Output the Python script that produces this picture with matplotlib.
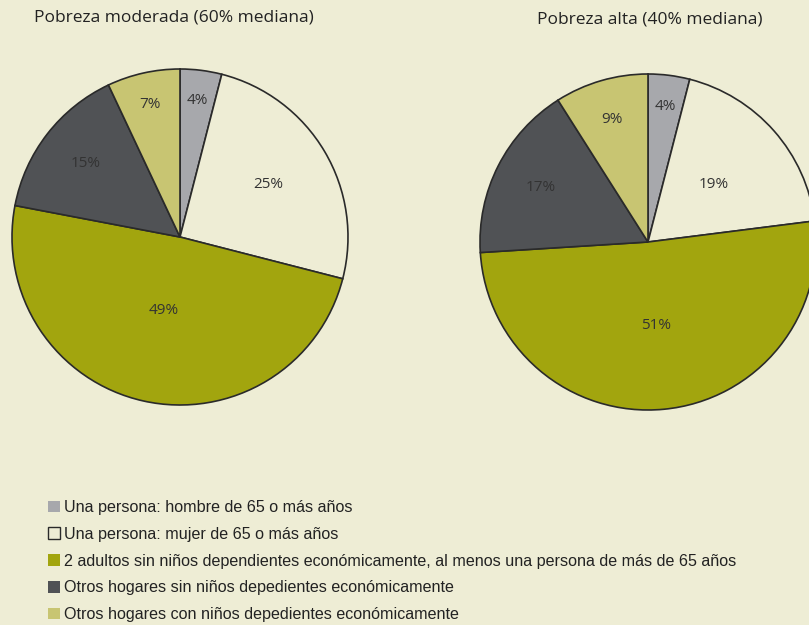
import numpy as np
import matplotlib
matplotlib.use("Agg")
import matplotlib.pyplot as plt
from matplotlib.patches import Patch

categories = [
    "Una persona: hombre de 65 o más años",
    "Una persona: mujer de 65 o más años",
    "2 adultos sin niños dependientes económicamente, al menos una persona de más de 65 años",
    "Otros hogares sin niños depedientes económicamente",
    "Otros hogares con niños depedientes económicamente",
]
moderada = [4, 25, 49, 15, 7]
alta = [4, 19, 51, 17, 9]
titles = ["Pobreza moderada (60% mediana)", "Pobreza alta (40% mediana)"]

bg = "#EEEDD5"
colors = ["#A7A8AC", bg, "#A2A50E", "#505255", "#C8C572"]
edge = "#2a2a2a"

# how far out each percentage sits (fraction of radius)
label_r_left = [0.82, 0.61, 0.45, 0.71, 0.81]
label_r_right = [0.81, 0.52, 0.50, 0.72, 0.76]

fig = plt.figure(figsize=(8.09, 6.25), dpi=100)
fig.patch.set_facecolor(bg)

ax_l = fig.add_axes([12 / 809, 1 - 405 / 625, 336 / 809, 336 / 625])
ax_r = fig.add_axes([480 / 809, 1 - 410 / 625, 336 / 809, 336 / 625])


def draw_pie(ax, values, label_r):
    ax.set_facecolor("none")
    wedges, _ = ax.pie(values, colors=colors, startangle=90, counterclock=False,
                       radius=1, wedgeprops=dict(edgecolor=edge, linewidth=1.2))
    for w, v, r in zip(wedges, values, label_r):
        ang = np.deg2rad((w.theta1 + w.theta2) / 2)
        ax.text(r * np.cos(ang), r * np.sin(ang), f"{v}%", ha="center", va="center",
                fontsize=11, color="#333333", family="Open Sans")
    ax.set_xlim(-1, 1)
    ax.set_ylim(-1, 1)
    ax.set_aspect("equal")
    ax.axis("off")


draw_pie(ax_l, moderada, label_r_left)
draw_pie(ax_r, alta, label_r_right)

fig.text(34 / 809, 1 - 18 / 625, titles[0], ha="left", va="center",
         fontsize=12.5, color="#222222", family="Open Sans")
fig.text(537 / 809, 1 - 20 / 625, titles[1], ha="left", va="center",
         fontsize=12.5, color="#222222", family="Open Sans")

handles = []
for c in colors:
    if c == bg:
        handles.append(Patch(facecolor=c, edgecolor=edge, linewidth=1.0))
    else:
        handles.append(Patch(facecolor=c, edgecolor="none"))

fig.legend(handles, categories, loc="upper left", bbox_to_anchor=(48 / 809, 1 - 500 / 625),
           frameon=False, handlelength=0.72, handleheight=0.72, handletextpad=0.28,
           labelspacing=0.73, borderaxespad=0, borderpad=0,
           prop={"family": "Liberation Sans", "size": 11.65}, labelcolor="#222222")

fig.savefig("out.png", dpi=100, facecolor=bg)
